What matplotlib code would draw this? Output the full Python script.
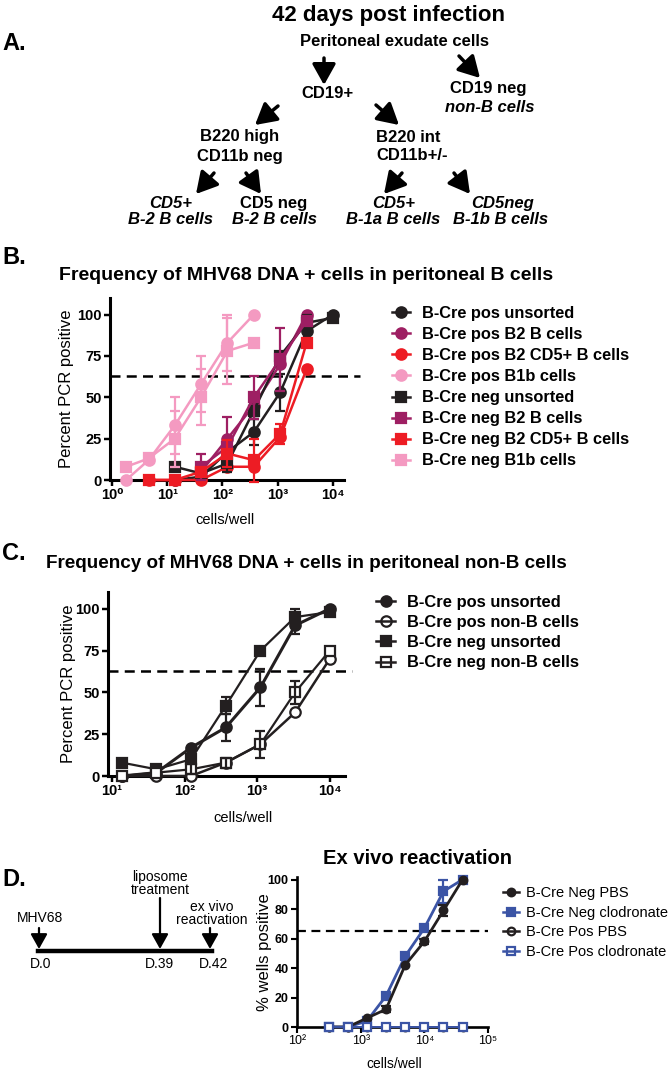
import matplotlib
matplotlib.use("Agg")
import matplotlib.pyplot as plt
from matplotlib import font_manager
from matplotlib.lines import Line2D
from matplotlib.patches import FancyArrowPatch
from matplotlib.ticker import NullLocator

# ---- values ----
# B: MHV68 DNA+ frequency in peritoneal B cell subsets (3-fold dilutions)
b_cells = [13.7, 41, 123, 370, 1111, 3333, 10000]
b_cells_cd5 = [4.6, 13.7, 41, 123, 370, 1111, 3333]
b_cells_b2 = [41, 123, 370, 1111, 3333]
b_cells_b1b = [1.8, 4.6, 13.7, 41, 123, 370]

b_pos_unsorted = [0, 2, 17, 29, 53, 90, 100]
b_pos_unsorted_err = [0, 0, 0, 8, 11, 5, 0]
b_pos_b2 = [5, 25, 45, 70, 100]
b_pos_b2_err = [0, 13, 0, 0, 0]
b_pos_cd5 = [0, 0, 0, 8, 8, 26, 67]
b_pos_cd5_err = [0, 0, 0, 0, 0, 0, 0]
b_pos_b1b = [0, 12, 33, 58, 83, 100]
b_pos_b1b_err = [0, 0, 17, 17, 17, 0]
b_neg_unsorted = [8, 4, 10, 42, 75, 95, 98]
b_neg_unsorted_err = [0, 0, 5, 5, 0, 5, 0]
b_neg_b2 = [8, 20, 50, 73, 96]
b_neg_b2_err = [8, 0, 13, 19, 0]
b_neg_cd5 = [0, 0, 5, 16, 12, 28, 83]
b_neg_cd5_err = [0, 0, 0, 8, 13, 6, 0]
b_neg_b1b = [8, 13, 25, 50, 78, 83]
b_neg_b1b_err = [0, 0, 17, 17, 20, 0]

# C: unsorted vs non-B cells
c_cells = [13.7, 41, 123, 370, 1111, 3333, 10000]
c_pos_unsorted = [0, 2, 17, 29, 53, 90, 100]
c_pos_unsorted_err = [0, 0, 0, 8, 11, 5, 0]
c_pos_nonb = [0, 0, 0, 8, 19, 38, 70]
c_pos_nonb_err = [0, 0, 0, 0, 0, 0, 0]
c_neg_unsorted = [8, 4, 10, 42, 75, 95, 98]
c_neg_unsorted_err = [0, 0, 5, 5, 0, 5, 0]
c_neg_nonb = [0, 2, 4, 8, 19, 50, 75]
c_neg_nonb_err = [0, 0, 3, 3, 8, 7, 0]

# D: ex vivo reactivation (2-fold dilutions)
d_cells = [312.5, 625, 1250, 2500, 5000, 10000, 20000, 40000]
d_neg_pbs = [0, 0, 6, 12, 42, 58, 79, 100]
d_neg_pbs_err = [0, 0, 0, 2, 0, 2, 4, 0]
d_neg_clod = [0, 0, 4, 21, 48, 67, 92, 100]
d_neg_clod_err = [0, 0, 0, 0, 0, 0, 8, 0]
d_pos_pbs = [0, 0, 0, 0, 0, 0, 0, 0]
d_pos_clod = [0, 0, 0, 0, 0, 0, 0, 0]

cutoff_bc = 63
cutoff_d = 65

BLACK = "#231f20"
MAROON = "#9e1f63"
RED = "#ed1c24"
PINK = "#f49ac1"
BLUE = "#3b54a5"

names = {f.name for f in font_manager.fontManager.ttflist}
SANS = ["Liberation Sans", "DejaVu Sans"]
NARROW = (["Liberation Sans Narrow"] if "Liberation Sans Narrow" in names else []) + SANS

plt.rcParams["font.family"] = SANS
plt.rcParams["font.weight"] = "bold"

W, H = 671, 1069
fig = plt.figure(figsize=(W / 100, H / 100), dpi=100)


def box(l, r, t, b):
    return [l / W, 1 - b / H, (r - l) / W, (b - t) / H]


def txt(x, y, s, size=12, style="normal", ha="center", family=None, weight="bold"):
    fig.text(x / W, 1 - y / H, s, ha=ha, va="center", fontsize=size,
             fontstyle=style, fontweight=weight, family=family or SANS)


def arrow(x0, y0, x1, y1, lw=2.5, scale=17):
    fig.add_artist(FancyArrowPatch((x0 / W, 1 - y0 / H), (x1 / W, 1 - y1 / H),
                                   transform=fig.transFigure,
                                   arrowstyle="-|>,head_length=0.75,head_width=0.42",
                                   mutation_scale=scale, lw=lw, color="black",
                                   shrinkA=0, shrinkB=0))


def series(ax, x, y, err, color, marker, ms, label, open_=False, lw=1.8, z=3):
    mfc = "white" if open_ else color
    ax.plot(x, y, color=color, marker=marker, ms=ms, mfc=mfc, mec=color, mew=1.6,
            lw=lw, clip_on=False, zorder=z, label=label)
    xe = [a for a, e in zip(x, err) if e > 0]
    ye = [b for b, e in zip(y, err) if e > 0]
    ee = [e for e in err if e > 0]
    if xe:
        ax.errorbar(xe, ye, yerr=ee, fmt="none", ecolor=color, elinewidth=1.6,
                    capsize=3.5, capthick=1.6, clip_on=False, zorder=z)


def handle(color, marker, ms, open_=False, lw=1.8):
    return Line2D([], [], color=color, marker=marker, ms=ms, lw=lw,
                  mfc="none" if open_ else color, mec=color, mew=1.6)


def prism_axes(ax, lw=2.2):
    for s in ("top", "right"):
        ax.spines[s].set_visible(False)
    for s in ("left", "bottom"):
        ax.spines[s].set_linewidth(lw)
    ax.tick_params(width=lw * 0.8, length=4, pad=2)


# ---------------- A ----------------
txt(388, 15, "42 days post infection", 16)
txt(2, 43, "A.", 17, ha="left")
txt(394, 42, "Peritoneal exudate cells")
arrow(324, 58, 324, 85)
arrow(459, 56, 480, 78)
txt(327, 94, "CD19+")
txt(488, 89, "CD19 neg")
txt(490, 107, "non-B cells", style="italic")
arrow(278, 106, 255, 125)
arrow(376, 105, 399, 125)
txt(240, 137, "B220 high")
txt(240, 156, "CD11b neg")
txt(376, 137, "B220 int", ha="left")
txt(376, 156, "CD11b+/-", ha="left")
arrow(214, 173, 196, 194)
arrow(246, 173, 261, 194)
arrow(402, 173, 384, 194)
arrow(454, 173, 470, 194)
txt(171, 203, "CD5+", style="italic")
txt(171, 220, "B-2 B cells", style="italic")
txt(274, 203, "CD5 neg")
txt(274, 220, "B-2 B cells", style="italic")
txt(394, 203, "CD5+", style="italic")
txt(393, 220, "B-1a B cells", style="italic")
txt(503, 203, "CD5neg", style="italic")
txt(501, 220, "B-1b B cells", style="italic")

# ---------------- B ----------------
txt(2, 257, "B.", 17, ha="left")
txt(306, 275, "Frequency of MHV68 DNA + cells in peritoneal B cells", 14)
axB = fig.add_axes(box(110.3, 344, 298, 480))
axB.set_xscale("log")
series(axB, b_cells, b_pos_unsorted, b_pos_unsorted_err, BLACK, "o", 7.5, "B-Cre pos unsorted")
series(axB, b_cells_b2, b_pos_b2, b_pos_b2_err, MAROON, "o", 7.5, "B-Cre pos B2 B cells")
series(axB, b_cells_cd5, b_pos_cd5, b_pos_cd5_err, RED, "o", 7.5, "B-Cre pos B2 CD5+ B cells")
series(axB, b_cells_b1b, b_pos_b1b, b_pos_b1b_err, PINK, "o", 7.5, "B-Cre pos B1b cells")
series(axB, b_cells, b_neg_unsorted, b_neg_unsorted_err, BLACK, "s", 7, "B-Cre neg unsorted")
series(axB, b_cells_b2, b_neg_b2, b_neg_b2_err, MAROON, "s", 7, "B-Cre neg B2 B cells")
series(axB, b_cells_cd5, b_neg_cd5, b_neg_cd5_err, RED, "s", 7, "B-Cre neg B2 CD5+ B cells")
series(axB, b_cells_b1b, b_neg_b1b, b_neg_b1b_err, PINK, "s", 7, "B-Cre neg B1b cells")
axB.plot([0, 1.07], [cutoff_bc, cutoff_bc], transform=axB.get_yaxis_transform(),
         color="black", lw=1.8, dashes=(4, 2.5), clip_on=False, zorder=2)
axB.set_xlim(10 ** -0.03, 10 ** 4.2)
axB.set_ylim(0, 110)
axB.xaxis.set_minor_locator(NullLocator())
axB.set_xticks([1, 10, 100, 1e3, 1e4], ["10⁰", "10¹", "10²", "10³", "10⁴"], fontsize=10.5)
axB.set_yticks([0, 25, 50, 75, 100], ["0", "25", "50", "75", "100"], fontsize=10.5)
prism_axes(axB)
axB.set_ylabel("Percent PCR positive", fontsize=12, va="center")
axB.yaxis.set_label_coords((67 - 110.3) / 233.7, 0.5)
axB.set_xlabel("cells/well", fontsize=10.5)
axB.xaxis.set_label_coords(0.49, -0.18)
hb = [handle(BLACK, "o", 7.5), handle(MAROON, "o", 7.5), handle(RED, "o", 7.5), handle(PINK, "o", 7.5),
      handle(BLACK, "s", 7), handle(MAROON, "s", 7), handle(RED, "s", 7), handle(PINK, "s", 7)]
lb = ["B-Cre pos unsorted", "B-Cre pos B2 B cells", "B-Cre pos B2 CD5+ B cells", "B-Cre pos B1b cells",
      "B-Cre neg unsorted", "B-Cre neg B2 B cells", "B-Cre neg B2 CD5+ B cells", "B-Cre neg B1b cells"]
axB.legend(hb, lb, loc="upper left", bbox_to_anchor=(392 / W, 1 - 306 / H),
           bbox_transform=fig.transFigure, frameon=False, borderaxespad=0, borderpad=0,
           handlelength=1.1, handletextpad=0.7, labelspacing=0.37,
           prop={"family": SANS, "weight": "bold", "size": 11.8})

# ---------------- C ----------------
txt(2, 553, "C.", 17, ha="left")
txt(306, 563, "Frequency of MHV68 DNA + cells in peritoneal non-B cells", 13.6)
axC = fig.add_axes(box(108.3, 345, 592, 776))
axC.set_xscale("log")
series(axC, c_cells, c_pos_unsorted, c_pos_unsorted_err, BLACK, "o", 7.5, "B-Cre pos unsorted", lw=2.2)
series(axC, c_cells, c_pos_nonb, c_pos_nonb_err, BLACK, "o", 7.5, "B-Cre pos non-B cells", open_=True)
series(axC, c_cells, c_neg_unsorted, c_neg_unsorted_err, BLACK, "s", 7, "B-Cre neg unsorted", lw=1.6)
series(axC, c_cells, c_neg_nonb, c_neg_nonb_err, BLACK, "s", 7, "B-Cre neg non-B cells", open_=True, lw=1.6)
axC.plot([0, 1.03], [cutoff_bc, cutoff_bc], transform=axC.get_yaxis_transform(),
         color="black", lw=1.8, dashes=(4, 2.5), clip_on=False, zorder=2)
axC.set_xlim(10 ** 0.95, 10 ** 4.21)
axC.set_ylim(0, 110)
axC.xaxis.set_minor_locator(NullLocator())
axC.set_xticks([10, 100, 1e3, 1e4], ["10¹", "10²", "10³", "10⁴"], fontsize=10.5)
axC.set_yticks([0, 25, 50, 75, 100], ["0", "25", "50", "75", "100"], fontsize=10.5)
prism_axes(axC)
axC.set_ylabel("Percent PCR positive", fontsize=12, va="center")
axC.yaxis.set_label_coords((68 - 108.3) / 236.7, 0.5)
axC.set_xlabel("cells/well", fontsize=10.5)
axC.xaxis.set_label_coords(0.57, -0.19)
hc = [handle(BLACK, "o", 7.5), handle(BLACK, "o", 7.5, open_=True),
      handle(BLACK, "s", 7), handle(BLACK, "s", 7, open_=True)]
lc = ["B-Cre pos unsorted", "B-Cre pos non-B cells", "B-Cre neg unsorted", "B-Cre neg non-B cells"]
axC.legend(hc, lc, loc="upper left", bbox_to_anchor=(376 / W, 1 - 595 / H),
           bbox_transform=fig.transFigure, frameon=False, borderaxespad=0, borderpad=0,
           handlelength=1.15, handletextpad=0.7, labelspacing=0.31,
           prop={"family": SANS, "weight": "bold", "size": 11.9})

# ---------------- D ----------------
txt(2, 880, "D.", 17, ha="left")
txt(417, 858, "Ex vivo reactivation", 14.5, family=NARROW)
# timeline
fig.add_artist(Line2D([38 / W, 212 / W], [1 - 951 / H, 1 - 951 / H], color="black", lw=3.2,
                      transform=fig.transFigure))
arrow(39, 928, 39, 949, lw=1.6, scale=12)
arrow(160, 898, 160, 949, lw=1.6, scale=12)
arrow(210, 928, 210, 949, lw=1.6, scale=12)
txt(40, 918, "MHV68", 10, family=NARROW, weight="normal")
txt(160, 877, "liposome", 10, family=NARROW, weight="normal")
txt(160, 890, "treatment", 10, family=NARROW, weight="normal")
txt(212, 907, "ex vivo", 10, family=NARROW, weight="normal")
txt(212, 920, "reactivation", 10, family=NARROW, weight="normal")
txt(41, 964, "D.0", 10, family=NARROW, weight="normal")
txt(159, 964, "D.39", 10, family=NARROW, weight="normal")
txt(214, 964, "D.42", 10, family=NARROW, weight="normal")

axD = fig.add_axes(box(297, 488, 877, 1027))
axD.set_xscale("log")
series(axD, d_cells, d_neg_pbs, d_neg_pbs_err, BLACK, "o", 5.5, "B-Cre Neg PBS", lw=2.0, z=4)
series(axD, d_cells, d_neg_clod, d_neg_clod_err, BLUE, "s", 5.5, "B-Cre Neg clodronate", lw=2.0, z=3)
series(axD, d_cells, d_pos_pbs, d_pos_pbs, BLACK, "o", 5.5, "B-Cre Pos PBS", open_=True, lw=1.4, z=5)
series(axD, d_cells, d_pos_clod, d_pos_clod, BLUE, "s", 5.5, "B-Cre Pos clodronate", open_=True, lw=1.4, z=5)
axD.plot([0, 1.0], [cutoff_d, cutoff_d], transform=axD.get_yaxis_transform(),
         color="black", lw=1.6, dashes=(4, 2.5), clip_on=False, zorder=2)
axD.set_xlim(100, 1e5)
axD.set_ylim(0, 101.7)
axD.xaxis.set_minor_locator(NullLocator())
axD.set_xticks([100, 1e3, 1e4, 1e5], ["10²", "10³", "10⁴", "10⁵"], fontsize=9,
               fontweight="normal", family=NARROW)
axD.set_yticks([0, 20, 40, 60, 80, 100], ["0", "20", "40", "60", "80", "100"], fontsize=9,
               family=NARROW)
prism_axes(axD, lw=1.9)
axD.set_ylabel("% wells positive", fontsize=12, va="center")
axD.yaxis.set_label_coords((265 - 297) / 191, 0.5)
axD.set_xlabel("cells/well", fontsize=10, fontweight="normal", family=NARROW)
axD.xaxis.set_label_coords(0.51, -0.2)
hd = [handle(BLACK, "o", 5.5), handle(BLUE, "s", 5.5),
      handle(BLACK, "o", 5.5, open_=True), handle(BLUE, "s", 5.5, open_=True)]
ld = ["B-Cre Neg PBS", "B-Cre Neg clodronate", "B-Cre Pos PBS", "B-Cre Pos clodronate"]
axD.legend(hd, ld, loc="upper left", bbox_to_anchor=(503 / W, 1 - 886 / H),
           bbox_transform=fig.transFigure, frameon=False, borderaxespad=0, borderpad=0,
           handlelength=1.1, handletextpad=0.5, labelspacing=0.39,
           prop={"family": NARROW, "weight": "normal", "size": 10.5})

fig.savefig("out.png", dpi=100)
